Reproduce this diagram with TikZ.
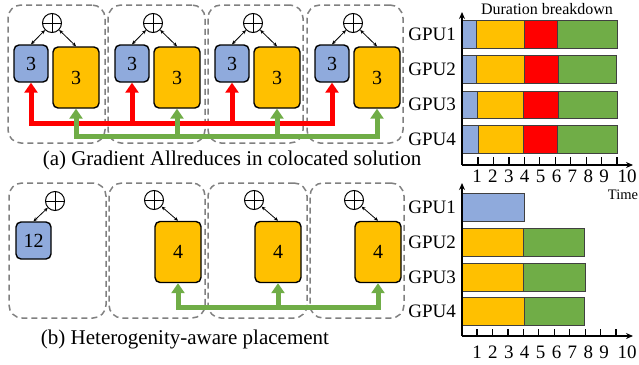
\documentclass[tikz,border=0pt]{standalone}
\usepackage{fontspec}
\setmainfont{Liberation Serif}
\usetikzlibrary{arrows.meta}
\definecolor{cblue}{HTML}{8FAADC}
\definecolor{corange}{HTML}{FFC000}
\definecolor{cred}{HTML}{FF0000}
\definecolor{cgreen}{HTML}{70AD47}
\definecolor{cgray}{HTML}{808080}
\begin{document}
\begin{tikzpicture}[x=1pt,y=-1pt,
  grp/.style={draw=cgray,dash pattern=on 6pt off 4pt,line width=1.5pt,rounded corners=13pt,inner sep=0pt},
  gpubox/.style={draw=black,line width=1.4pt,rounded corners=5pt,inner sep=0pt,font=\fontsize{20}{22}\selectfont},
  smallbox/.style={gpubox,fill=cblue,minimum width=34pt,minimum height=37pt},
  bigbox/.style={gpubox,fill=corange,minimum width=46pt,minimum height=61pt},
  oplus/.style={circle,draw,line width=1pt,minimum size=19pt,inner sep=0pt,
    path picture={\draw[line width=1pt] (path picture bounding box.north) -- (path picture bounding box.south)
      (path picture bounding box.west) -- (path picture bounding box.east);}},
  link/.style={{Stealth[length=4pt,width=3.5pt]}-{Stealth[length=4pt,width=3.5pt]},line width=0.8pt},
  busred/.style={draw=cred,line width=5pt},
  busgreen/.style={draw=cgreen,line width=5pt},
  bigtip/.style={-{Triangle[length=10pt,width=13pt]}},
  bothtips/.style={{Triangle[length=10pt,width=13pt]}-{Triangle[length=10pt,width=13pt]}},
  caption/.style={font=\fontsize{21}{24}\selectfont},
  gpulabel/.style={font=\fontsize{19}{21}\selectfont,anchor=east,inner sep=0pt},
  ticklabel/.style={font=\fontsize{19}{21}\selectfont,inner sep=0pt},
  bar/.style={draw=black!75,line width=0.7pt},
  axis/.style={line width=1.5pt,-{Stealth[length=7pt,width=6pt]}},
  tickmark/.style={line width=1.2pt}
]
\useasboundingbox (0,0) rectangle (639,364);

% ---------- top row (a) ----------
\node[grp,minimum width=97pt,minimum height=138pt] (ga1) at (56.5,74) {};
\node[grp,minimum width=97pt,minimum height=138pt] (ga2) at (156.5,74) {};
\node[grp,minimum width=95pt,minimum height=138pt] (ga3) at (255.5,74) {};
\node[grp,minimum width=96pt,minimum height=138pt] (ga4) at (355,74) {};

\foreach \k/\off in {1/0,2/101,3/201,4/301}{
  \node[oplus] (ca\k) at (52+\off,23) {};
  \node[smallbox] (ba\k) at (31+\off,63.5) {3};
  \node[bigbox] (oa\k) at (76+\off,77.5) {3};
  \draw[link] (ca\k) -- (ba\k.north);
  \draw[link] (ca\k) -- (oa\k.north);
}
\coordinate (rbus) at (0,123);
\coordinate (gbus) at (0,136);
\draw[busred,bothtips] (ba1.south) -- (ba1.south |- rbus) -- (ba4.south |- rbus) -- (ba4.south);
\draw[busred,bigtip] (ba2.south |- rbus) -- (ba2.south);
\draw[busred,bigtip] (ba3.south |- rbus) -- (ba3.south);
\draw[busgreen,bothtips] (oa1.south) -- (oa1.south |- gbus) -- (oa4.south |- gbus) -- (oa4.south);
\draw[busgreen,bigtip] (oa2.south |- gbus) -- (oa2.south);
\draw[busgreen,bigtip] (oa3.south |- gbus) -- (oa3.south);

\node[caption] (capa) at (232,160) {(a) Gradient Allreduces in colocated solution};

% ---------- bottom row (b) ----------
\node[grp,minimum width=97pt,minimum height=135pt] (gb1) at (57.5,250.5) {};
\node[grp,minimum width=96pt,minimum height=135pt] (gb2) at (157,250.5) {};
\node[grp,minimum width=99pt,minimum height=135pt] (gb3) at (257.5,250.5) {};
\node[grp,minimum width=94pt,minimum height=135pt] (gb4) at (357,250.5) {};

\node[oplus] (cb1) at (55,201) {};
\node[smallbox,minimum width=35pt] (bb1) at (33.5,240.5) {12};
\draw[link] (cb1) -- (bb1.north);
\foreach \k/\off in {2/0,3/100,4/200}{
  \node[oplus] (cb\k) at (154+\off,200) {};
  \node[bigbox] (ob\k) at (178+\off,252) {4};
  \draw[link] (cb\k) -- (ob\k.north);
}
\coordinate (gbusb) at (0,307);
\draw[busgreen,bothtips] (ob2.south) -- (ob2.south |- gbusb) -- (ob4.south |- gbusb) -- (ob4.south);
\draw[busgreen,bigtip] (ob3.south |- gbusb) -- (ob3.south);

\node[caption] (capb) at (185,339) {(b) Heterogenity-aware placement};

% ---------- top chart ----------
\foreach \ya/\yb/\xa/\xb/\xc/\xd in {20/48/476/524/557/617, 55/83/476/524/558/616, 91/118/477/523/558/617, 125/153/478/523/557/617}{
  \filldraw[bar,fill=cblue] (462,\ya) rectangle (\xa,\yb);
  \filldraw[bar,fill=corange] (\xa,\ya) rectangle (\xb,\yb);
  \filldraw[bar,fill=cred] (\xb,\ya) rectangle (\xc,\yb);
  \filldraw[bar,fill=cgreen] (\xc,\ya) rectangle (\xd,\yb);
}
\coordinate (oa) at (462,165);
\draw[axis] (oa) -- (462,12);
\draw[axis] (oa) -- (633,165);
\foreach \k in {1,...,10}{
  \draw[tickmark] (478+15.45*\k-15.45,157) -- (478+15.45*\k-15.45,165);
}
\foreach \k in {1,...,9}{
  \node[ticklabel] (ta\k) at (477+15.9*\k-15.9,176.5) {\k};
}
\node[ticklabel] (ta10) at (627,176.5) {10};
\node[font=\fontsize{14.5}{16}\selectfont,inner sep=0pt] (time) at (623,195) {Time};
\node[font=\fontsize{16}{18}\selectfont,inner sep=0pt] (dur) at (547,9) {Duration breakdown};
\node[gpulabel] (la1) at (456,34) {GPU1};
\node[gpulabel] (la2) at (456,69) {GPU2};
\node[gpulabel] (la3) at (456,104.5) {GPU3};
\node[gpulabel] (la4) at (456,139) {GPU4};

% ---------- bottom chart ----------
\filldraw[bar,fill=cblue] (462,193) rectangle (524,221);
\foreach \ya/\yb/\xa/\xb in {228/256/523/584, 263/291/523/585, 297/325/524/584}{
  \filldraw[bar,fill=corange] (462,\ya) rectangle (\xa,\yb);
  \filldraw[bar,fill=cgreen] (\xa,\ya) rectangle (\xb,\yb);
}
\coordinate (ob) at (462,336);
\draw[axis] (ob) -- (462,183);
\draw[axis] (ob) -- (633,336);
\foreach \k in {1,...,10}{
  \draw[tickmark] (477+15.45*\k-15.45,329) -- (477+15.45*\k-15.45,336);
}
\foreach \k in {1,...,9}{
  \node[ticklabel] (tb\k) at (477+15.9*\k-15.9,352) {\k};
}
\node[ticklabel] (tb10) at (627,352) {10};
\node[gpulabel] (lb1) at (456,207) {GPU1};
\node[gpulabel] (lb2) at (456,242) {GPU2};
\node[gpulabel] (lb3) at (456,277) {GPU3};
\node[gpulabel] (lb4) at (456,311) {GPU4};
\end{tikzpicture}
\end{document}
